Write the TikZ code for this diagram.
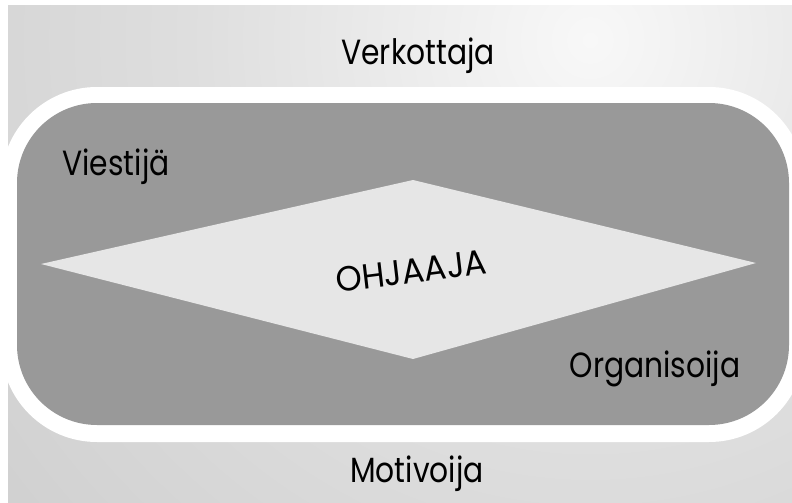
\documentclass[tikz,border=0pt]{standalone}
\usepackage{fontspec}
\setmainfont{Poppins}
\usetikzlibrary{shapes.geometric}

\definecolor{glowA}{HTML}{F8F8F8}
\definecolor{glowB}{HTML}{DEDEDE}
\definecolor{glowC}{HTML}{C8C8C8}
\definecolor{glowD}{HTML}{A8A8A8}
\definecolor{glowE}{HTML}{999999}
\definecolor{panel}{HTML}{999999}
\definecolor{core}{HTML}{E6E6E6}

% soft light spot for the backdrop
\pgfdeclareradialshading{bgglow}{\pgfpoint{0bp}{0bp}}{%
  color(0bp)=(glowA); color(13.2bp)=(glowB); color(31.6bp)=(glowC);
  color(39.5bp)=(glowD); color(50bp)=(glowE)}

\tikzset{
  role/.style={font=\fontsize{35}{40}\selectfont, text=black, inner sep=0pt, xscale=0.85},
}

\begin{document}
\begin{tikzpicture}[x=1pt,y=-1pt]
  \useasboundingbox (0,0) rectangle (792,503);
  \fill[white] (0,0) rectangle (792,503);

  % shaded backdrop
  \begin{scope}
    \clip (8,6) rectangle (792,503);
    \shade[shading=bgglow] (590,40) circle[radius=760];
  \end{scope}

  % white frame and grey panel
  \fill[white, rounded corners=96pt] (1,87) rectangle (805,442);
  \fill[panel, rounded corners=80pt] (17,103) rectangle (789,425);

  % central diamond
  \coordinate (dl) at (41,264);
  \coordinate (dt) at (413,180);
  \coordinate (dr) at (756,263);
  \coordinate (db) at (413,359);
  \fill[core] (dl) -- (dt) -- (dr) -- (db) -- cycle;

  % labels
  \node[role, anchor=base] (verk) at (418,65) {Verkottaja};
  \node[role, anchor=base] (viest) at (116,175) {Viestijä};
  \node[role, anchor=base] (org) at (655,377) {Organisoija};
  \node[role, anchor=base] (motiv) at (417,482) {Motivoija};
  \node[role, xscale=1.12, rotate=7] (ohj) at (411,271) {OHJAAJA};
\end{tikzpicture}
\end{document}
